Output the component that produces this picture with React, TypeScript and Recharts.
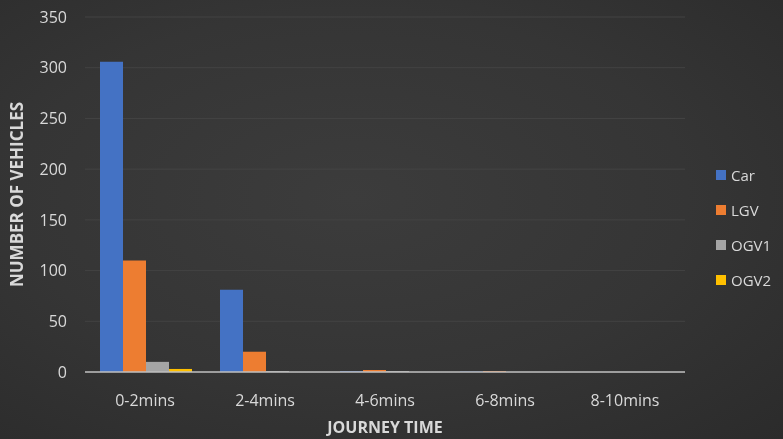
import React from "react";
import { BarChart, Bar, XAxis, YAxis, CartesianGrid, Label } from "recharts";

const categories = ["0-2mins", "2-4mins", "4-6mins", "6-8mins", "8-10mins"];
const carValues = [306, 81, 1, 0.5, 0];
const lgvValues = [110, 20, 2, 1, 0];
const ogv1Values = [10, 1, 1, 0, 0];
const ogv2Values = [3, 0, 0, 0, 0];
const yTicks = [0, 50, 100, 150, 200, 250, 300, 350];

const series = [
  { key: "Car", values: carValues, color: "#4472C4" },
  { key: "LGV", values: lgvValues, color: "#ED7D31" },
  { key: "OGV1", values: ogv1Values, color: "#A5A5A5" },
  { key: "OGV2", values: ogv2Values, color: "#FFC000" },
];

const data = categories.map((c, i) => {
  const row: Record<string, string | number> = { name: c };
  series.forEach((s) => {
    row[s.key] = s.values[i];
  });
  return row;
});

const FONT = "'Open Sans', sans-serif";
const TEXT = "#d9d9d9";

export default function App() {
  return (
    <div
      style={{
        position: "fixed",
        left: 0,
        top: 0,
        width: 783,
        height: 439,
        background: "radial-gradient(ellipse at 45% 45%, #3c3c3c 0%, #353535 55%, #2b2b2b 100%)",
        fontFamily: FONT,
      }}
    >
      <BarChart
        width={783}
        height={439}
        data={data}
        margin={{ top: 17, right: 98, bottom: 3, left: 0 }}
        barGap={0}
        barCategoryGap={15}
      >
        <CartesianGrid vertical={false} stroke="#434343" strokeWidth={1} />
        <XAxis
          dataKey="name"
          tickLine={false}
          axisLine={{ stroke: "#bfbfbf", strokeWidth: 1.5 }}
          tick={{ fill: TEXT, fontSize: 16, fontFamily: FONT }}
          tickMargin={17}
          height={64}
        >
          <Label
            value="JOURNEY TIME"
            position="insideBottom"
            offset={3}
            fill={TEXT}
            fontSize={16}
            fontWeight="bold"
            fontFamily={FONT}
          />
        </XAxis>
        <YAxis
          domain={[0, 350]}
          ticks={yTicks}
          axisLine={false}
          tickLine={false}
          tickSize={0}
          tickMargin={18}
          width={85}
          tick={{ fill: TEXT, fontSize: 16, fontFamily: FONT }}
        >
          <Label
            value="NUMBER OF VEHICLES"
            angle={-90}
            position="insideLeft"
            offset={17}
            fill={TEXT}
            fontSize={17}
            fontWeight="bold"
            fontFamily={FONT}
            style={{ textAnchor: "middle" }}
          />
        </YAxis>
        {series.map((s) => (
          <Bar key={s.key} dataKey={s.key} fill={s.color} isAnimationActive={false} />
        ))}
      </BarChart>
      <div style={{ position: "absolute", left: 716, top: 157 }}>
        {series.map((s) => (
          <div
            key={s.key}
            style={{ display: "flex", alignItems: "center", height: 35, color: TEXT, fontSize: 15 }}
          >
            <span style={{ width: 10, height: 10, background: s.color, marginRight: 5, display: "inline-block" }} />
            {s.key}
          </div>
        ))}
      </div>
    </div>
  );
}
